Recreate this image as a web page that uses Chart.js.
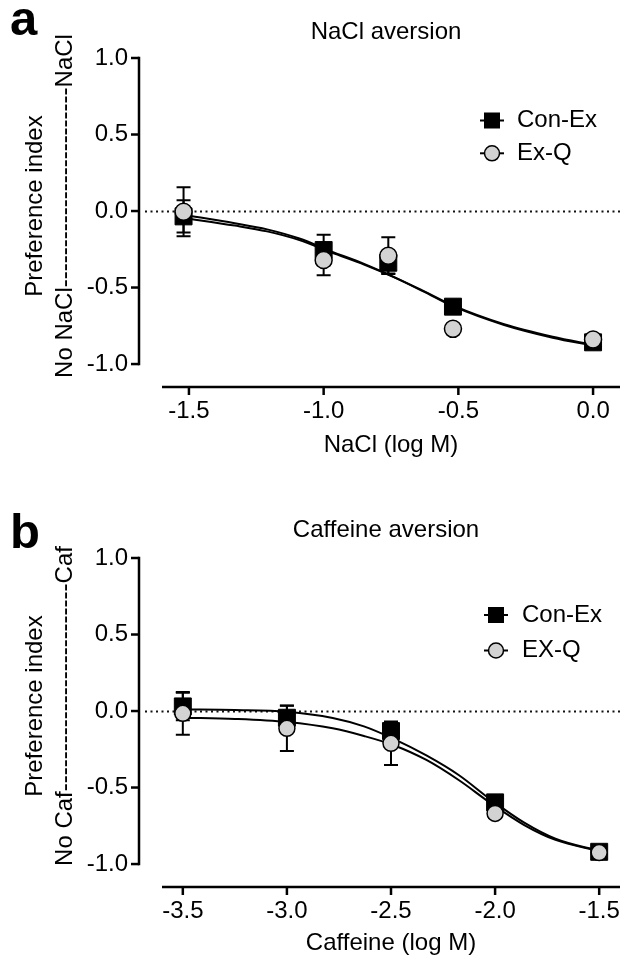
<!DOCTYPE html>
<html><head><meta charset="utf-8">
<script src="https://cdn.jsdelivr.net/npm/chart.js@4.4.0/dist/chart.umd.min.js"></script>
<style>
html,body{margin:0;padding:0;background:#fff;}
#wrap{position:relative;width:633px;height:961px;overflow:hidden;background:#fff;}
canvas{position:absolute;left:0;}
#ca{top:0;} #cb{top:500px;}
</style></head><body>
<div id="wrap"><canvas id="ca" width="633" height="500"></canvas><canvas id="cb" width="633" height="461"></canvas></div>
<script>
// ---------- Panel a: NaCl aversion ----------
const naclX = [-1.52, -1.0, -0.76, -0.52, 0.0];
const naclConEx = [-0.035, -0.255, -0.338, -0.625, -0.858];
const naclConExErr = [0.105, 0.10, 0.07, 0.03, 0.02];
const naclExQ = [-0.005, -0.32, -0.292, -0.77, -0.84];
const naclExQErr = [0.16, 0.10, 0.12, 0.03, 0.02];
const naclFitX = [-1.52, -1.33, -1.21, -1.09, -0.97, -0.85, -0.74, -0.63, -0.52, -0.33, -0.15, 0.0];
const naclFitConEx = [-0.045, -0.095, -0.133, -0.19, -0.272, -0.35, -0.432, -0.525, -0.622, -0.745, -0.828, -0.88];
const naclFitExQ = [-0.025, -0.08, -0.12, -0.18, -0.265, -0.345, -0.43, -0.522, -0.617, -0.74, -0.822, -0.875];
const naclXTicks = [-1.5, -1.0, -0.5, 0.0];

// ---------- Panel b: Caffeine aversion ----------
const cafX = [-3.5, -3.0, -2.5, -2.0, -1.5];
const cafConEx = [0.03, -0.044, -0.131, -0.597, -0.92];
const cafConExErr = [0.09, 0.08, 0.055, 0.03, 0.02];
const cafExQ = [-0.015, -0.113, -0.211, -0.669, -0.925];
const cafExQErr = [0.14, 0.148, 0.142, 0.03, 0.02];
const cafFitX = [-3.5, -3.25, -3.0, -2.78, -2.63, -2.49, -2.33, -2.175, -2.02, -1.86, -1.71, -1.5];
const cafFitConEx = [0.01, 0.007, -0.004, -0.045, -0.10, -0.18, -0.29, -0.418, -0.58, -0.73, -0.835, -0.915];
const cafFitExQ = [-0.044, -0.052, -0.072, -0.113, -0.163, -0.222, -0.32, -0.451, -0.603, -0.745, -0.842, -0.915];
const cafXTicks = [-3.5, -3.0, -2.5, -2.0, -1.5];

const yTicks = [-1.0, -0.5, 0.0, 0.5, 1.0];

const FONT = '"Liberation Sans", Arial, Helvetica, sans-serif';

function pts(xs, ys) { return xs.map((x, i) => ({x: x, y: ys[i]})); }

const decor = {
  id: 'decor',
  beforeDatasetsDraw(chart, args, o) {
    const ctx = chart.ctx, xs = chart.scales.x, ys = chart.scales.y, ca = chart.chartArea;
    ctx.save();
    // dotted zero line
    ctx.strokeStyle = '#111'; ctx.lineWidth = 2; ctx.setLineDash([2, 3.5]);
    const y0 = Math.round(ys.getPixelForValue(0)) + 0.5;
    ctx.beginPath(); ctx.moveTo(o.axisX + 6, y0); ctx.lineTo(ca.right, y0); ctx.stroke();
    ctx.setLineDash([]);
    // axes
    ctx.strokeStyle = '#000'; ctx.lineWidth = 2.5;
    const yTop = ys.getPixelForValue(yTicks[yTicks.length - 1]), yBot = ys.getPixelForValue(yTicks[0]);
    ctx.beginPath(); ctx.moveTo(o.axisX, yTop - 1.25); ctx.lineTo(o.axisX, yBot + 1.25); ctx.stroke();
    yTicks.forEach(v => { const p = ys.getPixelForValue(v); ctx.beginPath(); ctx.moveTo(o.axisX - 8, p); ctx.lineTo(o.axisX, p); ctx.stroke(); });
    const xb = ca.bottom;
    ctx.beginPath(); ctx.moveTo(ca.left, xb); ctx.lineTo(ca.right, xb); ctx.stroke();
    o.xTicks.forEach(v => { const p = xs.getPixelForValue(v); ctx.beginPath(); ctx.moveTo(p, xb); ctx.lineTo(p, xb + 8); ctx.stroke(); });
    // error bars
    ctx.lineWidth = 2;
    chart.data.datasets.forEach(ds => {
      if (!ds.errors) return;
      ds.data.forEach((d, i) => {
        const e = ds.errors[i];
        const px = xs.getPixelForValue(d.x);
        const pu = ys.getPixelForValue(d.y + e), pl = ys.getPixelForValue(d.y - e);
        ctx.beginPath();
        ctx.moveTo(px, pu); ctx.lineTo(px, pl);
        ctx.moveTo(px - 7, pu); ctx.lineTo(px + 7, pu);
        ctx.moveTo(px - 7, pl); ctx.lineTo(px + 7, pl);
        ctx.stroke();
      });
    });
    ctx.restore();
  },
  afterDraw(chart, args, o) {
    const ctx = chart.ctx;
    ctx.save();
    ctx.fillStyle = '#000';
    // panel letter
    ctx.font = 'bold 49px ' + FONT; ctx.textAlign = 'left'; ctx.textBaseline = 'alphabetic';
    ctx.fillText(o.letter, 10, o.letterBase);
    // title
    ctx.font = '24px ' + FONT; ctx.textAlign = 'center'; ctx.textBaseline = 'middle';
    ctx.fillText(o.title, o.titleX, o.titleY);
    // y title
    o.yTitle.forEach((t, i) => {
      ctx.save(); ctx.translate(o.yTitleX[i], o.yTitleY); ctx.rotate(-Math.PI / 2);
      ctx.fillText(t, 0, 0); ctx.restore();
    });
    // legend
    ctx.textAlign = 'left';
    o.legendRows.forEach((ry, i) => {
      const ds = chart.data.datasets[i];
      const mx = o.legendX;
      ctx.strokeStyle = '#000'; ctx.lineWidth = 2;
      ctx.beginPath(); ctx.moveTo(mx - 12, ry); ctx.lineTo(mx + 12, ry); ctx.stroke();
      if (ds.pointStyle === 'rect') {
        ctx.fillStyle = '#000'; ctx.fillRect(mx - 8, ry - 8, 16, 16);
      } else {
        ctx.fillStyle = ds.pointBackgroundColor; ctx.lineWidth = 1.5;
        ctx.beginPath(); ctx.arc(mx, ry, 7.5, 0, Math.PI * 2); ctx.fill(); ctx.stroke();
      }
      ctx.fillStyle = '#000';
      ctx.fillText(ds.label, o.legendTextX, ry);
    });
    ctx.restore();
  }
};

function makePanel(id, H, cfg) {
  const tickFont = {family: FONT, size: 24};
  return new Chart(document.getElementById(id), {
    type: 'scatter',
    data: {
      datasets: [
        {label: cfg.names[0], data: pts(cfg.x, cfg.conEx), errors: cfg.conExErr, pointStyle: 'rect',
         pointRadius: 12, pointBackgroundColor: '#000', pointBorderColor: '#000', borderWidth: 1,
         showLine: false, order: 2},
        {label: cfg.names[1], data: pts(cfg.x, cfg.exQ), errors: cfg.exQErr, pointStyle: 'circle',
         pointRadius: cfg.circleR, pointBackgroundColor: '#d3d3d3', pointBorderColor: '#000', pointBorderWidth: 1.5,
         showLine: false, order: 1},
        {label: 'fit ' + cfg.names[0], data: pts(cfg.fitX, cfg.fitConEx), showLine: true, pointRadius: 0,
         borderColor: '#000', borderWidth: 2, cubicInterpolationMode: 'monotone', order: 3},
        {label: 'fit ' + cfg.names[1], data: pts(cfg.fitX, cfg.fitExQ), showLine: true, pointRadius: 0,
         borderColor: '#000', borderWidth: 2, cubicInterpolationMode: 'monotone', order: 3}
      ]
    },
    options: {
      responsive: false, animation: false, devicePixelRatio: 1,
      layout: {padding: {top: 58, left: 0, right: 0, bottom: 0}},
      plugins: {
        legend: {display: false}, tooltip: {enabled: false}, title: {display: false},
        decor: cfg.decor
      },
      scales: {
        x: {
          type: 'linear', min: cfg.xMin, max: cfg.xMax,
          afterBuildTicks: s => { s.ticks = cfg.xTicks.map(v => ({value: v})); },
          afterFit: s => { s.height = H - 387; },
          grid: {display: false, drawTicks: false}, border: {display: false},
          ticks: {padding: 10, color: '#000', font: tickFont, callback: v => Number(v).toFixed(1)},
          title: {display: true, text: cfg.xTitle, color: '#000', font: tickFont, padding: {top: 0, bottom: cfg.xTitlePad}}
        },
        y: {
          type: 'linear', min: -1.15, max: 1.0,
          afterBuildTicks: s => { s.ticks = yTicks.map(v => ({value: v})); },
          afterFit: s => { s.width = 162; },
          grid: {display: false, drawTicks: false}, border: {display: false},
          ticks: {padding: 34, color: '#000', font: tickFont, callback: v => Number(v).toFixed(1)}
        }
      }
    },
    plugins: [decor]
  });
}

makePanel('ca', 500, {
  names: ['Con-Ex', 'Ex-Q'], x: naclX, conEx: naclConEx, conExErr: naclConExErr, exQ: naclExQ, exQErr: naclExQErr,
  fitX: naclFitX, fitConEx: naclFitConEx, fitExQ: naclFitExQ, xTicks: naclXTicks, xMin: -1.6, xMax: 0.1,
  xTitle: 'NaCl (log M)', xTitlePad: 40, circleR: 8.5,
  decor: {axisX: 139, xTicks: naclXTicks, letter: 'a', letterBase: 35, title: 'NaCl aversion', titleX: 386, titleY: 32,
    yTitle: ['Preference index', 'No NaCl' + '-'.repeat(25) + 'NaCl'], yTitleX: [35, 65], yTitleY: 206,
    legendRows: [120.5, 153.3], legendX: 492, legendTextX: 517}
});
makePanel('cb', 461, {
  names: ['Con-Ex', 'EX-Q'], x: cafX, conEx: cafConEx, conExErr: cafConExErr, exQ: cafExQ, exQErr: cafExQErr,
  fitX: cafFitX, fitConEx: cafFitConEx, fitExQ: cafFitExQ, xTicks: cafXTicks, xMin: -3.6, xMax: -1.4,
  xTitle: 'Caffeine (log M)', xTitlePad: 3, circleR: 8,
  decor: {axisX: 139, xTicks: cafXTicks, letter: 'b', letterBase: 48, title: 'Caffeine aversion', titleX: 386, titleY: 30,
    yTitle: ['Preference index', 'No Caf' + '-'.repeat(26) + 'Caf'], yTitleX: [35, 65], yTitleY: 206,
    legendRows: [115, 150.5], legendX: 496, legendTextX: 522}
});
</script>
</body></html>
